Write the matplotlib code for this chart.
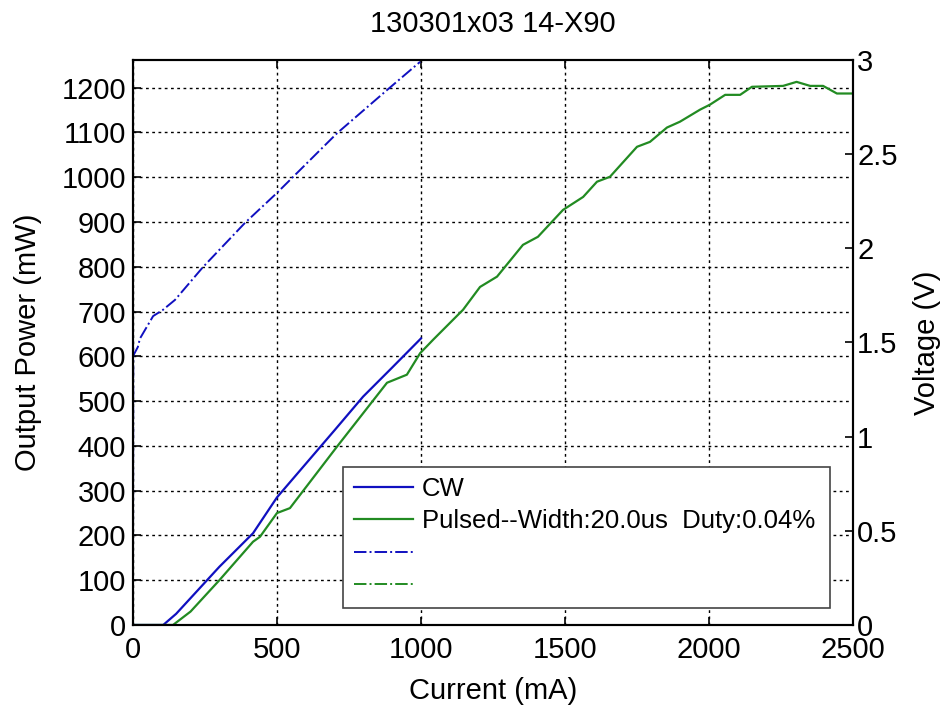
import numpy as np
import matplotlib

matplotlib.use("Agg")
import matplotlib.pyplot as plt

plt.rcParams["font.family"] = ["Liberation Sans", "DejaVu Sans"]

# CW output power (mW) vs current (mA)
cw_current = [0, 105, 150, 200, 300, 417, 500, 600, 700, 799, 900, 1000]
cw_power = [0, 0, 25, 60, 130, 205, 285, 360, 435, 510, 575, 640]

# pulsed output power
pulsed_current = [0, 139, 200, 300, 417, 441, 500, 545, 708, 882, 951, 997,
                  1042, 1146, 1205, 1264, 1354, 1406, 1493, 1563, 1611, 1656,
                  1750, 1795, 1854, 1899, 1969, 2003, 2056, 2108, 2149, 2257,
                  2304, 2351, 2396, 2444, 2497]
pulsed_power = [0, 0, 30, 100, 186, 197, 250, 261, 398, 541, 559, 607,
                637, 704, 755, 778, 849, 867, 927, 956, 990, 1001,
                1068, 1079, 1111, 1124, 1151, 1162, 1184, 1184, 1202, 1204,
                1213, 1204, 1204, 1187, 1187]

# CW voltage (V)
volt_current = [0, 1, 17, 24, 70, 104, 146, 243, 389, 500, 708, 882, 997]
volt_cw = [0, 1.43, 1.476, 1.52, 1.64, 1.673, 1.726, 1.90, 2.135, 2.294,
           2.61, 2.84, 2.99]

title = "130301x03 14-X90"
legend_labels = ["CW", "Pulsed--Width:20.0us  Duty:0.04%", "", ""]

fig = plt.figure(figsize=(9.43, 7.05), dpi=100)
ax = fig.add_axes([0.141, 0.1135, 0.7636, 0.8015])
ax2 = ax.twinx()

blue = "#1010c0"
green = "#228b22"
fs = 21

l1, = ax.plot(cw_current, cw_power, color=blue, lw=1.6)
l2, = ax.plot(pulsed_current, pulsed_power, color=green, lw=1.6)
l3, = ax2.plot(volt_current, volt_cw, color=blue, lw=1.4, ls="-.")
l4, = ax2.plot([], [], color=green, lw=1.4, ls="-.")

ax.set_xlim(0, 2500)
ax.set_ylim(0, 1262)
ax2.set_ylim(0, 3)
ax.set_xticks(np.arange(0, 2501, 500))
ax.set_yticks(np.arange(0, 1201, 100))
ax2.set_yticks([0, 0.5, 1, 1.5, 2, 2.5, 3])
ax2.set_yticklabels(["0", "0.5", "1", "1.5", "2", "2.5", "3"])

ax.grid(True, color="black", ls=(0, (2, 2.5)), lw=1.0)
for a in (ax, ax2):
    a.tick_params(direction="in", labelsize=fs, length=6, width=1.2)
    for s in a.spines.values():
        s.set_linewidth(1.5)
ax.tick_params(top=True)
ax.tick_params(axis="x", pad=8)
ax.tick_params(axis="y", pad=5)
ax2.tick_params(axis="y", pad=3)

ax.set_title(title, fontsize=fs, pad=20)
ax.set_xlabel("Current (mA)", fontsize=fs, labelpad=9)
ax.set_ylabel("Output Power (mW)", fontsize=fs, labelpad=14)
ax2.set_ylabel("Voltage (V)", fontsize=fs, labelpad=11)

leg = ax2.legend([l1, l2, l3, l4], legend_labels, loc="lower left",
                 bbox_to_anchor=(0.292, 0.03, 0.676, 0.253), mode="expand",
                 fontsize=18.5, handlelength=2.3, handletextpad=0.35,
                 borderaxespad=0, fancybox=False, framealpha=1,
                 labelspacing=0.32, borderpad=0.4)
leg.get_frame().set_edgecolor("#444444")
leg.get_frame().set_linewidth(1.2)

fig.savefig("out.png", dpi=100)
